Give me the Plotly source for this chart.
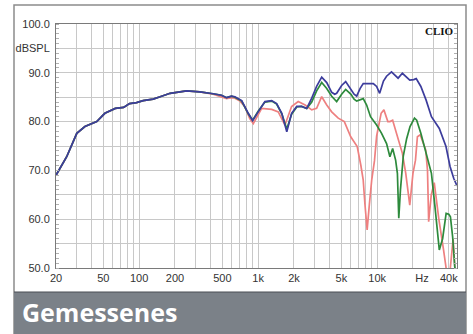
import plotly.graph_objects as go
import numpy as np

# ---------------- data ----------------
freq_blue = [20, 24.6, 29.9, 35, 44, 51.5, 63, 74, 83, 95, 108, 131, 150, 182, 250, 324, 419, 492,
             543, 598, 638, 727, 826, 899, 1000, 1140, 1300, 1430, 1580, 1740, 1910, 2110, 2320,
             2560, 2820, 3100, 3420, 3770, 4150, 4400, 4570, 5030, 5440, 6030, 6400, 6730, 7200,
             7640, 8500, 9280, 9900, 10500, 11300, 12000, 13200, 14000, 15000, 16300, 17500,
             18800, 20300, 21300, 23300, 25800, 28600, 33300, 37900, 41000, 44000, 46900]
db_blue = [69.0, 72.8, 77.6, 79.0, 80.0, 81.7, 82.7, 82.9, 83.7, 83.9, 84.3, 84.6, 85.1, 85.8, 86.3,
           86.1, 85.7, 85.4, 84.9, 85.2, 85.1, 84.3, 81.7, 80.2, 82.0, 84.1, 84.3, 83.7, 81.7, 77.9,
           81.7, 83.1, 83.1, 82.7, 84.8, 87.2, 89.1, 88.0, 86.0, 85.6, 85.8, 87.4, 88.2, 86.5, 85.6,
           85.2, 86.8, 87.8, 87.8, 87.8, 87.2, 85.8, 88.3, 89.3, 90.2, 89.6, 88.9, 89.9, 89.3, 88.5,
           88.6, 88.8, 87.2, 84.4, 81.0, 78.6, 74.9, 70.8, 68.4, 66.8]

freq_green = [20, 24.6, 29.9, 35, 44, 51.5, 63, 74, 83, 95, 108, 131, 150, 182, 250, 324, 419, 492,
              543, 598, 638, 727, 826, 899, 1000, 1140, 1300, 1430, 1580, 1740, 1910, 2110, 2320,
              2560, 2820, 3100, 3420, 3770, 4150, 4570, 5030, 5440, 6030, 6400, 6730, 7200, 7640,
              8160, 8800, 9900, 10900, 12000, 12800, 13500, 14300, 14800, 15200, 15700, 16600,
              17700, 18900, 20600, 21500, 23300, 25800, 28600, 30500, 33300, 35500, 38000, 40000,
              41300, 43100, 45000, 46900]
db_green = [69.0, 72.8, 77.6, 79.0, 80.0, 81.7, 82.7, 82.9, 83.7, 83.9, 84.3, 84.6, 85.1, 85.8, 86.3,
            86.1, 85.7, 85.4, 84.9, 85.2, 85.0, 84.2, 81.6, 80.3, 82.1, 84.0, 84.2, 83.6, 81.6, 78.5,
            81.5, 83.0, 83.1, 82.7, 84.0, 86.3, 88.0, 86.8, 85.2, 84.1, 85.6, 86.6, 85.6, 84.6, 84.2,
            84.4, 84.7, 83.4, 81.0, 79.3, 77.6, 75.5, 72.8, 74.5, 72.1, 69.4, 60.2, 66.0, 73.0, 76.5,
            79.0, 80.7, 80.3, 77.6, 73.5, 69.4, 63.0, 53.7, 56.0, 61.2, 61.0, 60.5, 56.4, 50.0, 48.0]

freq_red = [20, 24.6, 29.9, 35, 44, 51.5, 63, 74, 83, 95, 108, 131, 150, 182, 250, 324, 419, 492,
            543, 598, 638, 704, 770, 850, 910, 1071, 1300, 1476, 1680, 1910, 2170, 2480, 2820, 3100,
            3420, 3770, 4150, 4710, 5300, 6000, 6800, 7300, 7640, 7900, 8240, 8600, 9000, 9500, 9900,
            10800, 11400, 12300, 12800, 13500, 14800, 16300, 17400, 18800, 20000, 21000, 21800,
            23000, 25600, 26500, 27100, 28500, 30200, 33000, 36000, 38500, 40500, 42000, 43500,
            45000, 46900]
db_red = [69.0, 72.8, 77.6, 79.0, 80.0, 81.7, 82.7, 82.9, 83.7, 83.9, 84.3, 84.6, 85.1, 85.8, 86.3,
          86.1, 85.6, 85.1, 84.7, 84.9, 84.8, 84.2, 83.1, 80.6, 79.6, 82.7, 82.5, 82.0, 79.3, 83.1,
          84.1, 83.4, 82.4, 82.7, 85.1, 83.4, 82.0, 80.7, 80.0, 76.9, 74.9, 71.0, 68.0, 63.0, 57.8,
          63.0, 68.0, 72.0, 77.0, 81.7, 82.4, 80.0, 80.0, 80.3, 76.9, 73.5, 69.4, 62.9, 69.4, 72.1,
          76.9, 77.3, 74.2, 70.0, 59.5, 65.0, 67.5, 60.0, 54.0, 49.0, 48.0, 52.0, 56.0, 50.0, 47.0]

x_tick_vals = [20, 50, 100, 200, 500, 1000, 2000, 5000, 10000, 23800, 40000]
x_tick_text = ["20", "50", "100", "200", "500", "1k", "2k", "5k", "10k", "Hz", "40k"]
x_grid_vals = [30, 40, 50, 60, 70, 80, 90, 100, 200, 300, 400, 500, 600, 700, 800, 900, 1000,
               2000, 3000, 4000, 5000, 6000, 7000, 8000, 9000, 10000, 20000, 30000, 40000]
y_tick_vals = [50, 55, 60, 65, 70, 75, 80, 85, 90, 95, 100]
y_tick_text = ["50.0", "", "60.0", "", "70.0", "", "80.0", "", "90.0", "dBSPL", "100.0"]

title_text = "Gemessenes"
brand_text = "CLIO"

# ---------------- figure ----------------
W, H = 473, 334
ML, MR, MT, MB = 56, 16, 24, 66
PW, PH = W - ML - MR, H - MT - MB


def px(x):
    return (x - ML) / PW


def py(y):
    return (H - MB - y) / PH


fig = go.Figure()
for f, d, c in [(freq_red, db_red, "#ee8080"),
                (freq_green, db_green, "#2d8a3c"),
                (freq_blue, db_blue, "#3c3c9c")]:
    fig.add_trace(go.Scatter(x=f, y=d, mode="lines", line=dict(color=c, width=1.7),
                             hoverinfo="skip", cliponaxis=True))

font_axis = dict(family="Liberation Sans, Arial, sans-serif", size=11, color="#333333")

fig.update_layout(
    width=W, height=H,
    margin=dict(l=ML, r=MR, t=MT, b=MB, pad=0),
    paper_bgcolor="white", plot_bgcolor="white",
    showlegend=False,
    xaxis=dict(type="log", range=[np.log10(20), np.log10(46900)],
               tickmode="array", tickvals=x_tick_vals, ticktext=x_tick_text,
               showgrid=False, zeroline=False, ticks="", tickfont=font_axis,
               showline=True, linecolor="#7a7a7a", linewidth=1, mirror=True,
               minor=dict(tickmode="array", tickvals=x_grid_vals, showgrid=True,
                          gridcolor="#c8c8c8", gridwidth=1, ticks="")),
    yaxis=dict(range=[50, 100], tickmode="array", tickvals=y_tick_vals, ticktext=y_tick_text,
               showgrid=True, gridcolor="#c8c8c8", gridwidth=1, zeroline=False,
               ticks="", tickfont=font_axis, ticklabelstandoff=3,
               showline=True, linecolor="#7a7a7a", linewidth=1, mirror="ticks",
               minor=dict(dtick=1, ticks="inside", ticklen=3, tickcolor="#b0b0b0",
                          showgrid=False)),
    shapes=[
        dict(type="rect", xref="paper", yref="paper", layer="below",
             x0=px(14), x1=px(466), y0=py(H), y1=py(5),
             line=dict(color="#8c8c8c", width=1.5), fillcolor="rgba(0,0,0,0)"),
        dict(type="rect", xref="paper", yref="paper", layer="above",
             x0=px(14), x1=px(466), y0=py(H + 2), y1=py(292),
             line=dict(width=0), fillcolor="#7b8188"),
        dict(type="line", xref="paper", yref="paper", layer="above",
             x0=px(14), x1=px(466), y0=py(292), y1=py(292),
             line=dict(color="#4a4f55", width=1.2)),
    ],
    annotations=[
        dict(text=title_text, xref="paper", yref="paper", x=px(20), y=py(312),
             xanchor="left", yanchor="middle", showarrow=False,
             font=dict(family="Open Sans, sans-serif", size=25, color="white", weight="bold")),
        dict(text="<b>" + brand_text + "</b>", xref="paper", yref="paper", x=px(456), y=py(31),
             xanchor="right", yanchor="middle", showarrow=False,
             font=dict(family="Liberation Serif, DejaVu Serif, serif", size=11, color="#111")),
    ],
)

fig.write_html("out.html", config={"displayModeBar": False, "staticPlot": True},
               post_script="document.body.style.margin='0';document.body.style.overflow='hidden';")
